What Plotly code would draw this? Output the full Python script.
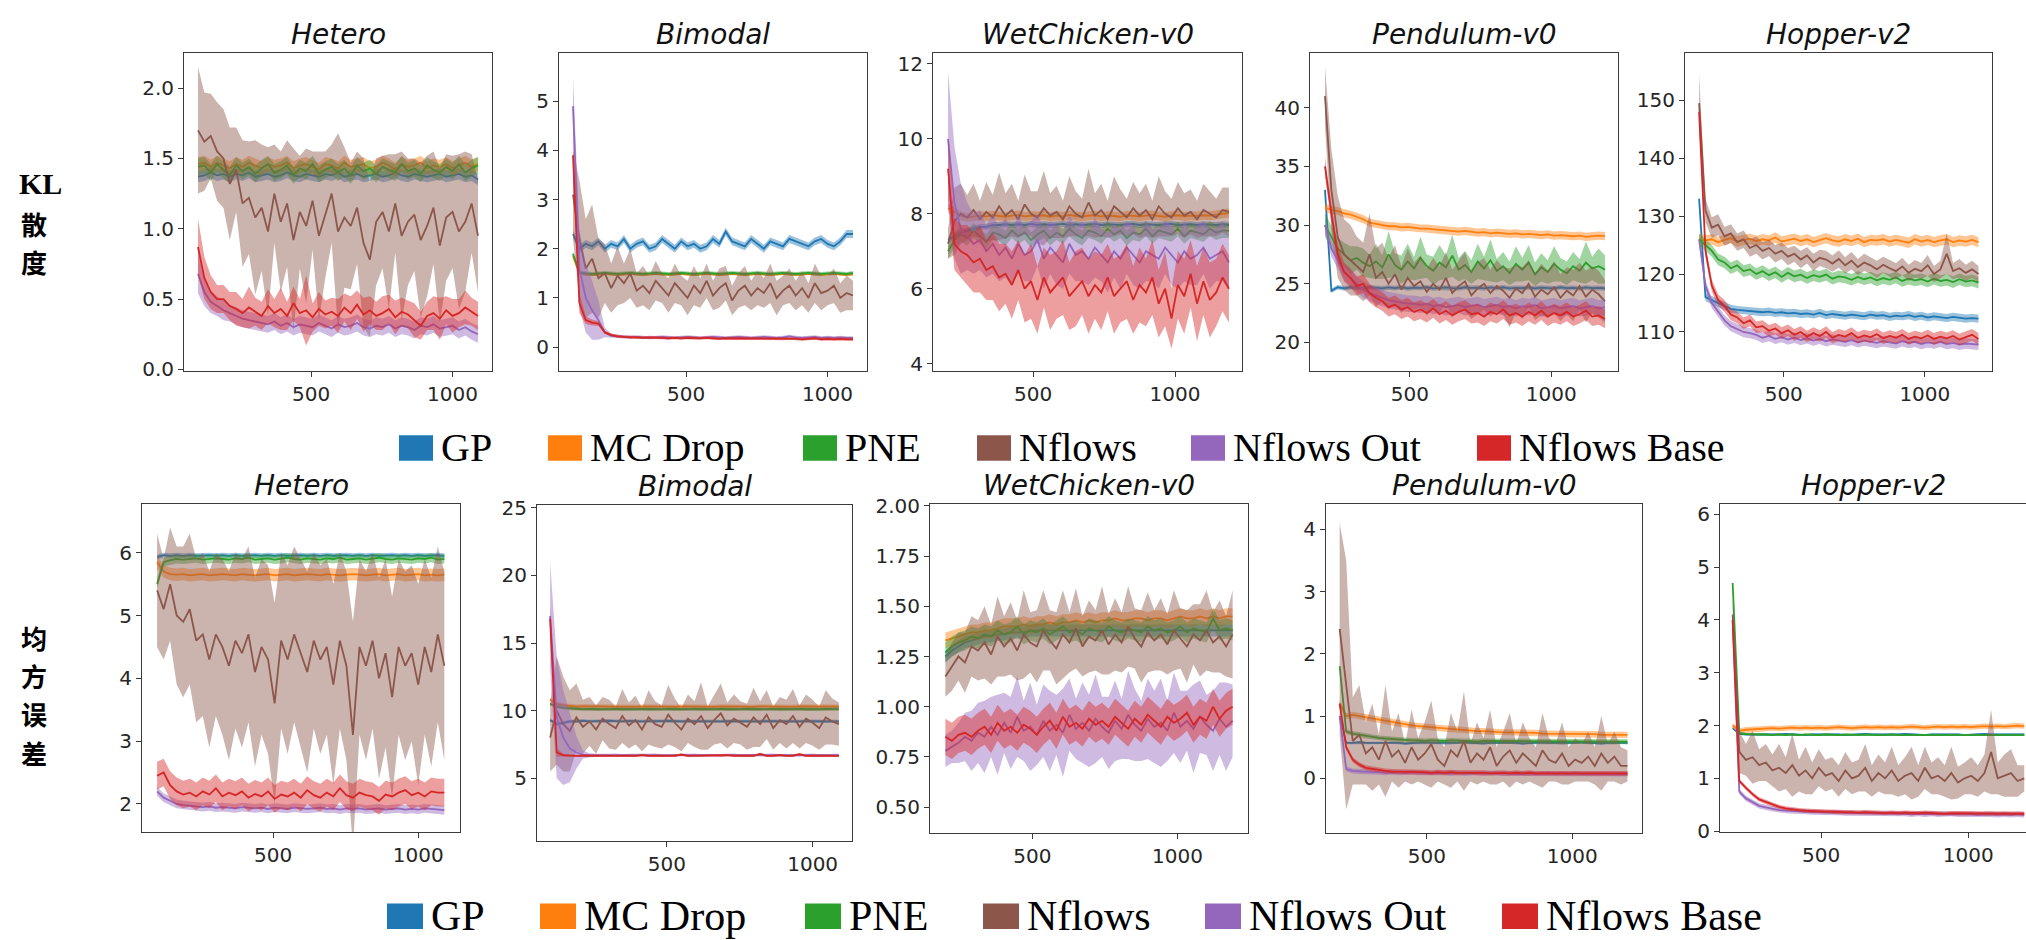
import numpy as np
import plotly.graph_objects as go

W, H = 2026, 940
SERIES = ["GP", "MC Drop", "PNE", "Nflows", "Nflows Out", "Nflows Base"]
COLORS = ["#1f77b4", "#ff7f0e", "#2ca02c", "#8c564b", "#9467bd", "#d62728"]
TITLES = ["Hetero", "Bimodal", "WetChicken-v0", "Pendulum-v0", "Hopper-v2"]
X_START = [100, 100, 200, 200, 200]
X_END = [1090, 1090, 1190, 1190, 1190]

# ---------------- KL divergence (top row) ----------------
T1_GP_M = [1.37,1.38,1.40,1.38,1.39, 1.37,1.39,1.38,1.40,1.37, 1.38,1.39,1.37,1.38,1.40, 1.38,1.37,1.39,1.38,1.37,
           1.39,1.38,1.40,1.37,1.38, 1.39,1.37,1.38,1.39,1.37, 1.38,1.40,1.38,1.37,1.39, 1.38,1.37,1.38,1.39,1.37,
           1.38,1.39,1.37,1.38,1.35]
T1_GP_S = 0.04
T1_MC_M = [1.46,1.47,1.44,1.47,1.45, 1.43,1.46,1.44,1.47,1.45, 1.43,1.46,1.44,1.45,1.47, 1.43,1.45,1.46,1.44,1.42,
           1.46,1.45,1.43,1.47,1.44, 1.45,1.46,1.43,1.44,1.47, 1.45,1.42,1.46,1.44,1.45, 1.47,1.43,1.45,1.44,1.46,
           1.43,1.45,1.47,1.44,1.46]
T1_MC_S = 0.05
T1_PNE_M = [1.44,1.45,1.40,1.46,1.42, 1.38,1.45,1.41,1.44,1.39, 1.43,1.46,1.40,1.42,1.45, 1.38,1.43,1.41,1.46,1.39,
            1.42,1.44,1.40,1.43,1.38, 1.45,1.41,1.43,1.39,1.44, 1.42,1.40,1.46,1.41,1.43, 1.39,1.45,1.42,1.40,1.44,
            1.41,1.46,1.40,1.43,1.45]
T1_PNE_S = 0.06
T1_NF_M = [1.70,1.62,1.66,1.55,1.50, 1.32,1.42,1.18,1.22,1.08, 1.15,0.98,1.25,1.05,1.18, 0.92,1.12,1.02,1.20,0.95,
           1.10,1.25,0.98,1.08,1.02, 1.15,0.90,0.78,1.05,1.12, 0.98,1.18,0.95,1.05,1.10, 0.92,1.02,1.15,0.88,1.08,
           1.12,0.98,1.05,1.18,0.95]
T1_NF_S = [0.45,0.35,0.30,0.35,0.35, 0.40,0.30,0.45,0.40,0.55, 0.45,0.60,0.35,0.50,0.45, 0.65,0.40,0.55,0.35,0.60,
           0.45,0.35,0.70,0.50,0.45, 0.40,0.60,0.55,0.45,0.40, 0.55,0.35,0.60,0.45,0.40, 0.55,0.50,0.40,0.55,0.45,
           0.40,0.55,0.50,0.35,0.40]
T1_OUT_M = [0.68,0.55,0.48,0.45,0.42, 0.40,0.38,0.36,0.35,0.34, 0.33,0.32,0.34,0.31,0.33, 0.30,0.32,0.31,0.30,0.33,
            0.31,0.29,0.32,0.30,0.31, 0.33,0.30,0.29,0.31,0.30, 0.32,0.29,0.31,0.30,0.28, 0.31,0.30,0.32,0.29,0.30,
            0.31,0.28,0.30,0.27,0.25]
T1_OUT_S = [0.14,0.10,0.08,0.07,0.07, 0.06,0.06,0.06,0.06,0.06, 0.06,0.06,0.06,0.06,0.06, 0.06,0.06,0.06,0.06,0.06,
            0.06,0.06,0.06,0.06,0.06, 0.06,0.06,0.06,0.06,0.06, 0.06,0.06,0.06,0.06,0.06, 0.06,0.06,0.06,0.06,0.06,
            0.06,0.06,0.06,0.06,0.06]
T1_BASE_M = [0.87,0.65,0.55,0.50,0.50, 0.45,0.43,0.40,0.44,0.41, 0.38,0.45,0.40,0.43,0.38, 0.47,0.40,0.42,0.37,0.43,
             0.39,0.41,0.38,0.44,0.40, 0.46,0.39,0.42,0.38,0.40, 0.43,0.37,0.41,0.39,0.35, 0.31,0.38,0.40,0.36,0.42,
             0.38,0.40,0.44,0.41,0.38]
T1_BASE_S = [0.20,0.15,0.12,0.10,0.10, 0.10,0.12,0.10,0.15,0.10, 0.10,0.12,0.10,0.15,0.10, 0.12,0.10,0.25,0.10,0.12,
             0.10,0.10,0.12,0.10,0.12, 0.10,0.12,0.10,0.10,0.12, 0.10,0.12,0.10,0.10,0.12, 0.10,0.10,0.12,0.15,0.10,
             0.12,0.10,0.12,0.10,0.10]

T2_GP_M = [2.30,2.00,2.10,2.05,2.15, 2.00,2.10,2.05,2.20,2.00, 2.10,2.15,2.00,2.05,2.20, 2.10,2.00,2.15,2.05,2.10,
           2.00,2.05,2.20,2.10,2.35, 2.15,2.10,2.05,2.20,2.10, 2.00,2.15,2.10,2.05,2.20, 2.15,2.10,2.05,2.15,2.20,
           2.10,2.05,2.15,2.30,2.30]
T2_GP_S = 0.08
T2_MC_M = [1.85,1.50,1.48,1.47,1.48, 1.49,1.48,1.47,1.48,1.49, 1.48,1.47,1.48,1.49,1.48, 1.47,1.48,1.49,1.48,1.47,
           1.48,1.49,1.48,1.47,1.48, 1.49,1.48,1.47,1.48,1.49, 1.48,1.47,1.48,1.49,1.48, 1.47,1.48,1.49,1.48,1.47,
           1.48,1.49,1.48,1.47,1.48]
T2_MC_S = 0.03
T2_PNE_M = [1.90,1.52,1.50,1.49,1.50, 1.51,1.50,1.49,1.50,1.51, 1.50,1.49,1.50,1.51,1.50, 1.49,1.50,1.51,1.50,1.49,
            1.50,1.51,1.50,1.49,1.50, 1.51,1.50,1.49,1.50,1.51, 1.50,1.49,1.50,1.51,1.50, 1.49,1.50,1.51,1.50,1.49,
            1.50,1.51,1.50,1.49,1.51]
T2_PNE_S = 0.04
T2_NF_M = [3.10,2.20,1.60,1.80,1.40, 1.50,1.20,1.45,1.30,1.50, 1.15,1.25,1.10,1.35,1.20, 1.05,1.30,1.15,1.00,1.25,
           1.10,1.35,1.05,1.20,1.30, 0.95,1.15,1.25,1.05,1.20, 1.10,1.30,1.00,1.15,1.25, 1.05,1.20,1.00,1.30,1.10,
           1.15,1.25,1.00,1.10,1.05]
T2_NF_S = [0.90,1.20,1.00,1.10,0.80, 0.60,0.50,0.60,0.40,0.50, 0.35,0.40,0.35,0.40,0.30, 0.35,0.40,0.30,0.35,0.40,
           0.30,0.35,0.30,0.40,0.35, 0.30,0.35,0.40,0.30,0.35, 0.30,0.40,0.35,0.30,0.35, 0.30,0.35,0.30,0.40,0.35,
           0.30,0.35,0.30,0.35,0.30]
T2_OUT_M = [4.90,1.60,1.00,0.75,0.55, 0.30,0.23,0.22,0.21,0.20, 0.21,0.20,0.19,0.20,0.21, 0.20,0.19,0.20,0.21,0.20,
            0.19,0.20,0.21,0.20,0.19, 0.20,0.21,0.20,0.19,0.20, 0.21,0.20,0.19,0.20,0.22, 0.20,0.19,0.20,0.21,0.19,
            0.20,0.19,0.20,0.19,0.19]
T2_OUT_S = [0.60,0.80,0.70,0.60,0.40, 0.10,0.04,0.03,0.03,0.03, 0.03,0.03,0.03,0.03,0.03, 0.03,0.03,0.03,0.03,0.03,
            0.03,0.03,0.03,0.03,0.03, 0.03,0.03,0.03,0.03,0.03, 0.03,0.03,0.03,0.03,0.03, 0.03,0.03,0.03,0.03,0.03,
            0.03,0.03,0.03,0.03,0.03]
T2_BASE_M = [3.90,0.90,0.55,0.50,0.48, 0.30,0.25,0.22,0.21,0.20, 0.20,0.19,0.20,0.19,0.19, 0.18,0.19,0.18,0.19,0.18,
             0.18,0.19,0.18,0.17,0.18, 0.18,0.17,0.18,0.17,0.18, 0.17,0.18,0.17,0.17,0.18, 0.17,0.16,0.17,0.18,0.16,
             0.17,0.16,0.17,0.16,0.16]
T2_BASE_S = [0.30,0.20,0.08,0.06,0.05, 0.03,0.03,0.03,0.03,0.03, 0.03,0.03,0.03,0.03,0.03, 0.03,0.03,0.03,0.03,0.03,
             0.03,0.03,0.03,0.03,0.03, 0.03,0.03,0.03,0.03,0.03, 0.03,0.03,0.03,0.03,0.03, 0.03,0.03,0.03,0.03,0.03,
             0.03,0.03,0.03,0.03,0.03]

T3_GP_M = [7.30,7.40,7.50,7.55,7.60, 7.65,7.65,7.70,7.70,7.72, 7.70,7.72,7.70,7.73,7.70, 7.72,7.70,7.71,7.73,7.70,
           7.72,7.70,7.71,7.73,7.70, 7.72,7.71,7.70,7.72,7.73, 7.70,7.72,7.71,7.70,7.72, 7.73,7.70,7.71,7.72,7.70,
           7.72,7.71,7.70,7.72,7.70]
T3_GP_S = 0.08
T3_MC_M = [8.15,8.05,7.95,7.90,7.92, 7.95,7.93,7.96,7.94,7.92, 7.95,7.97,7.93,7.95,7.94, 7.96,7.92,7.95,7.93,7.97,
           7.94,7.92,7.95,7.96,7.93, 7.95,7.94,7.92,7.96,7.95, 7.93,7.95,7.97,7.94,7.92, 7.95,7.96,7.93,7.95,7.94,
           7.96,7.95,7.97,8.00,8.02]
T3_MC_S = 0.12
T3_PNE_M = [7.00,7.30,7.45,7.35,7.55, 7.40,7.25,7.50,7.45,7.35, 7.55,7.40,7.50,7.30,7.45, 7.55,7.35,7.50,7.40,7.60,
            7.45,7.35,7.55,7.50,7.40, 7.60,7.45,7.55,7.35,7.50, 7.45,7.60,7.40,7.55,7.50, 7.45,7.60,7.40,7.55,7.50,
            7.45,7.60,7.50,7.55,7.55]
T3_PNE_S = 0.20
T3_NF_M = [7.20,7.80,8.00,7.90,8.10, 7.85,8.05,7.90,8.20,7.95, 8.10,7.85,8.25,8.00,7.90, 8.15,7.95,8.05,7.85,8.20,
           8.00,7.90,8.30,7.95,8.10, 7.85,8.20,8.05,7.90,8.15, 7.95,8.10,7.85,8.20,8.00, 7.90,8.15,7.95,8.05,7.85,
           8.10,8.00,7.90,8.10,8.05]
T3_NF_S = [0.40,0.90,0.80,0.60,0.70, 0.50,0.80,0.60,0.90,0.60, 0.70,0.50,0.80,0.60,0.70, 1.00,0.60,0.70,0.50,0.80,
           0.60,0.50,0.90,0.60,0.70, 0.50,0.80,0.60,0.50,0.70, 0.60,0.70,0.50,0.80,0.60, 0.50,0.70,0.60,0.60,0.50,
           0.70,0.60,0.50,0.60,0.65]
T3_OUT_M = [10.00,8.30,7.60,7.40,7.20, 7.30,7.00,7.20,6.90,7.10, 6.80,7.20,6.90,7.00,7.30, 6.80,7.10,6.90,6.70,7.20,
            6.90,7.00,6.80,7.10,6.90, 6.70,7.00,6.80,7.10,6.90, 6.70,7.00,6.90,6.80,7.10, 6.90,6.70,7.00,6.80,6.90,
            7.10,6.80,6.90,7.00,6.70]
T3_OUT_S = [1.80,1.50,1.20,0.90,0.80, 0.80,0.70,0.80,0.70,0.80, 0.70,0.80,0.70,0.80,0.70, 0.80,0.70,0.80,0.70,0.80,
            0.70,0.80,0.70,0.80,0.70, 0.80,0.70,0.80,0.70,0.80, 0.70,0.80,0.70,0.80,0.70, 0.80,0.70,0.80,0.70,0.80,
            0.70,0.80,0.70,0.80,0.70]
T3_BASE_M = [9.20,7.20,7.00,6.90,6.70, 6.80,6.50,6.60,6.30,6.40, 6.10,6.50,6.00,6.20,5.70, 6.30,5.90,6.10,6.30,5.80,
             6.00,6.20,5.80,6.10,5.90, 6.30,5.80,6.00,6.20,5.70, 6.10,5.90,6.30,5.60,6.00, 5.20,6.10,5.80,6.40,5.60,
             6.20,5.70,5.90,6.30,6.00]
T3_BASE_S = [0.80,0.70,0.70,0.80,0.80, 0.90,0.80,0.90,0.90,0.80, 0.90,0.80,0.90,1.00,0.90, 0.80,1.00,0.90,1.00,0.90,
             1.00,0.90,1.00,0.90,1.00, 0.90,1.00,0.90,1.00,0.90, 1.00,0.90,1.00,0.90,1.00, 0.80,0.90,1.00,0.90,1.00,
             0.90,1.00,0.90,0.90,0.90]

T4_GP_M = [33.00,24.40,24.70,24.60,24.70, 24.65,24.60,24.70,24.65,24.60, 24.68,24.62,24.70,24.60,24.66,
           24.64,24.70,24.60,24.65,24.68, 24.62,24.60,24.70,24.64,24.66, 24.60,24.68,24.62,24.70,24.60,
           24.65,24.62,24.68,24.60,24.66, 24.64,24.60,24.70,24.62,24.65, 24.60,24.68,24.62,24.64,24.60]
T4_GP_S = 0.2
T4_MC_M = [31.50,31.30,31.20,31.00,30.90, 30.70,30.50,30.20,30.10,30.00, 29.90,29.90,29.80,29.85,29.75,
           29.70,29.70,29.65,29.60,29.55, 29.50,29.45,29.50,29.40,29.35, 29.40,29.30,29.35,29.30,29.25,
           29.30,29.20,29.25,29.20,29.15, 29.20,29.10,29.15,29.10,29.05, 29.10,29.00,29.05,29.10,29.05]
T4_MC_S = 0.35
T4_PNE_M = [30.00,29.00,28.00,27.50,27.00, 27.20,26.80,26.50,26.90,26.40, 27.50,26.60,26.20,26.90,26.30,
            27.20,26.50,26.10,26.80,26.40, 27.40,26.20,26.60,26.00,26.90, 26.30,27.00,26.10,26.50,25.90,
            26.70,26.20,26.80,25.80,26.40, 26.00,26.70,26.20,25.90,26.50, 26.10,26.80,26.30,26.50,26.20]
T4_PNE_S = [1.00,0.90,0.90,1.00,1.20, 1.00,1.20,1.00,1.50,1.00, 2.00,1.00,1.20,1.50,1.00, 1.80,1.00,1.20,1.50,1.00,
            1.80,1.00,1.20,1.00,1.50, 1.00,1.80,1.00,1.20,1.00, 1.50,1.00,1.50,1.00,1.20, 1.00,1.50,1.00,1.00,1.20,
            1.00,1.80,1.00,1.50,1.20]
T4_NF_M = [41.00,33.00,29.00,27.50,27.00, 26.50,26.00,27.50,25.50,26.00, 25.00,25.80,24.50,25.50,24.80,
           25.20,24.30,25.00,24.50,25.50, 24.20,24.80,25.20,24.00,24.60, 25.00,24.20,24.80,24.40,23.80,
           24.60,24.20,25.00,23.90,24.50, 24.10,24.70,23.80,24.40,24.00, 24.80,23.90,24.50,24.10,23.50]
T4_NF_S = [2.50,3.50,3.50,3.00,3.00, 2.50,2.50,3.50,2.50,2.50, 2.20,2.50,2.00,2.50,2.00, 2.20,2.00,2.20,2.00,2.20,
           2.00,2.20,2.50,2.00,2.20, 2.20,2.00,2.20,2.00,2.50, 2.00,2.20,2.00,2.00,2.20, 2.00,2.20,2.00,2.00,2.20,
           2.00,2.20,2.00,2.00,1.80]
T4_OUT_M = [30.00,28.00,27.00,26.00,25.50, 25.00,24.50,24.20,24.00,23.80, 23.60,23.50,23.40,23.30,23.30,
            23.20,23.30,23.10,23.20,23.00, 23.10,23.20,23.00,23.10,23.20, 23.00,23.10,23.20,23.00,23.10,
            22.90,23.10,23.00,23.20,22.90, 23.00,23.10,22.90,23.00,23.10, 22.90,23.00,23.10,22.90,23.00]
T4_OUT_S = 0.7
T4_BASE_M = [35.00,31.00,27.50,26.00,25.50, 24.80,25.00,24.20,23.80,23.50, 23.00,23.20,22.80,23.00,22.60,
             22.80,22.50,22.90,22.40,22.70, 22.30,22.60,22.80,22.40,22.50, 22.20,22.60,22.40,22.80,22.30,
             22.50,22.20,22.60,22.30,22.70, 22.20,22.50,22.30,22.60,22.20, 22.40,22.70,22.20,22.30,22.00]
T4_BASE_S = 0.8

T5_GP_M = [133.0,116.0,115.5,115.0,114.5, 114.0,113.8,113.7,113.6,113.5, 113.4,113.5,113.3,113.4,113.2,
           113.3,113.1,113.2,113.0,113.3, 112.9,113.1,113.0,112.8,113.0, 112.9,112.7,113.0,112.8,112.9,
           112.6,112.8,112.7,112.9,112.6, 112.8,112.5,112.7,112.6,112.4, 112.6,112.5,112.3,112.4,112.3]
T5_GP_S = 0.7
T5_MC_M = [126.0,125.8,126.0,125.5,125.9, 126.2,125.6,125.9,126.1,125.7, 126.0,125.8,126.3,125.6,125.9,
           126.1,125.7,126.0,125.5,125.9, 126.2,125.8,125.6,126.0,125.7, 126.1,125.5,125.9,125.8,126.0,
           125.6,125.9,125.7,125.4,126.0, 125.6,125.9,125.5,125.8,126.0, 125.5,125.8,125.6,125.9,125.5]
T5_MC_S = 0.9
T5_PNE_M = [126.0,125.0,124.0,122.5,122.0, 121.0,121.5,120.5,120.8,120.0, 120.5,119.8,120.3,119.5,120.2,
            119.6,119.9,119.3,119.8,119.5, 119.9,119.2,119.6,119.4,119.0, 119.5,119.1,119.4,118.9,119.3,
            119.0,119.4,118.8,119.2,118.9, 119.1,118.7,119.2,118.8,119.0, 118.6,119.1,118.7,118.9,118.5]
T5_PNE_S = 1.0
T5_NF_M = [149.5,131.0,128.0,128.5,126.5, 127.0,125.5,126.0,124.5,125.0, 124.0,124.5,123.5,124.0,123.0,
           123.5,122.5,123.2,122.0,122.8, 122.5,121.8,122.6,121.5,122.3, 121.2,122.0,121.5,120.8,121.6,
           121.0,120.5,121.3,120.2,120.9, 120.5,121.5,120.0,120.8,123.5, 120.5,121.0,120.2,120.8,120.0]
T5_NF_S = [5.0,2.0,1.8,1.8,1.6, 1.6,1.5,1.5,1.5,1.5, 1.5,1.4,1.5,1.4,1.5, 1.4,1.5,1.4,1.5,1.4,
           1.5,1.4,1.5,1.4,1.5, 1.4,1.5,1.4,1.5,1.4, 1.5,1.4,1.5,1.4,1.5, 1.4,1.8,1.4,1.5,3.5,
           1.4,1.6,1.4,1.5,1.4]
T5_OUT_M = [126.0,118.0,115.0,113.5,112.0, 111.0,110.5,110.0,109.8,109.5, 109.0,109.3,108.8,109.1,108.7,
            109.0,108.6,108.9,108.5,108.8, 108.4,108.7,108.5,108.3,108.6, 108.2,108.5,108.3,108.1,108.4,
            108.2,108.0,108.4,108.1,108.3, 107.9,108.2,108.0,108.3,107.9, 108.1,107.8,108.0,107.9,107.8]
T5_OUT_S = 0.9
T5_BASE_M = [148.0,124.0,118.0,115.5,114.5, 113.0,112.5,111.5,112.0,110.8, 111.0,110.2,110.6,109.8,110.3,
             109.5,110.0,109.2,109.8,109.3, 110.0,109.0,109.5,109.2,109.8, 109.0,109.4,109.1,109.6,108.9,
             109.3,109.0,109.5,108.8,109.2, 108.9,109.4,108.8,109.2,108.9, 109.3,108.7,109.1,109.5,108.8]
T5_BASE_S = 1.0

# ---------------- MSE (bottom row) ----------------
B1_GP_M = [5.93,5.96,5.95,5.96,5.95, 5.96,5.95,5.96,5.96,5.95, 5.96,5.95,5.96,5.95,5.96, 5.96,5.95,5.96,5.95,5.96,
           5.95,5.96,5.96,5.95,5.96, 5.95,5.96,5.95,5.96,5.96, 5.95,5.96,5.95,5.96,5.95, 5.96,5.96,5.95,5.96,5.95,
           5.96,5.95,5.96,5.96,5.95]
B1_GP_S = 0.04
B1_MC_M = [5.85,5.70,5.66,5.65,5.66, 5.64,5.65,5.66,5.64,5.65, 5.66,5.65,5.64,5.66,5.65, 5.64,5.65,5.66,5.64,5.65,
           5.66,5.64,5.65,5.66,5.65, 5.64,5.66,5.65,5.64,5.65, 5.66,5.65,5.64,5.65,5.66, 5.64,5.65,5.66,5.64,5.65,
           5.66,5.64,5.65,5.64,5.65]
B1_MC_S = 0.10
B1_PNE_M = [5.50,5.85,5.88,5.90,5.89, 5.90,5.91,5.89,5.90,5.91, 5.90,5.89,5.91,5.90,5.92, 5.89,5.90,5.91,5.89,5.90,
            5.92,5.90,5.89,5.91,5.90, 5.89,5.91,5.90,5.92,5.89, 5.90,5.91,5.89,5.90,5.92, 5.90,5.89,5.91,5.90,5.89,
            5.91,5.90,5.92,5.89,5.90]
B1_PNE_S = 0.07
B1_NF_M = [5.40,5.10,5.50,5.00,4.90, 5.10,4.60,4.70,4.30,4.70, 4.50,4.20,4.60,4.40,4.70, 4.10,4.50,4.30,3.60,4.60,
           4.30,4.70,4.40,4.10,4.60, 4.30,4.50,3.90,4.60,4.20, 3.10,4.50,4.20,4.60,4.00, 4.40,3.70,4.50,4.20,4.40,
           3.90,4.50,4.10,4.70,4.20]
B1_NF_S = [0.90,0.80,0.90,1.10,1.20, 1.20,1.30,1.30,1.40,1.30, 1.40,1.50,1.40,1.50,1.40, 1.50,1.40,1.50,1.60,1.40,
           1.50,1.40,1.50,1.60,1.40, 1.50,1.40,1.60,1.40,1.50, 1.80,1.40,1.50,1.40,1.60, 1.50,1.60,1.40,1.50,1.40,
           1.60,1.40,1.50,1.40,1.50]
B1_OUT_M = [2.20,2.10,2.05,2.00,1.98, 1.97,1.96,1.95,1.96,1.94, 1.95,1.94,1.93,1.95,1.94, 1.93,1.94,1.92,1.94,1.93,
            1.92,1.94,1.93,1.92,1.93, 1.94,1.92,1.93,1.91,1.93, 1.92,1.93,1.91,1.92,1.93, 1.91,1.92,1.93,1.91,1.92,
            1.91,1.93,1.92,1.91,1.90]
B1_OUT_S = 0.07
B1_BASE_M = [2.45,2.50,2.30,2.20,2.15, 2.18,2.12,2.20,2.15,2.25, 2.12,2.18,2.14,2.20,2.10, 2.16,2.12,2.20,2.08,2.15,
             2.12,2.18,2.10,2.22,2.14, 2.10,2.18,2.12,2.25,2.14, 2.10,2.18,2.14,2.12,2.05, 2.15,2.12,2.18,2.22,2.14,
             2.18,2.12,2.20,2.18,2.18]
B1_BASE_S = 0.22

B2_GP_M = [9.30,9.00,9.10,9.20,9.20, 9.25,9.20,9.22,9.20,9.25, 9.22,9.20,9.24,9.21,9.20, 9.23,9.20,9.22,9.25,9.21,
           9.20,9.23,9.22,9.20,9.24, 9.21,9.20,9.23,9.22,9.20, 9.24,9.21,9.20,9.23,9.22, 9.20,9.24,9.21,9.20,9.23,
           9.22,9.20,9.21,9.23,9.20]
B2_GP_S = 0.12
B2_MC_M = [10.80,10.50,10.40,10.35,10.30, 10.32,10.30,10.28,10.31,10.30, 10.29,10.32,10.30,10.28,10.31,
           10.30,10.29,10.32,10.30,10.28, 10.31,10.30,10.29,10.32,10.30, 10.28,10.31,10.30,10.29,10.32,
           10.30,10.28,10.31,10.30,10.29, 10.32,10.30,10.28,10.31,10.30, 10.29,10.32,10.30,10.28,10.30]
B2_MC_S = 0.15
B2_PNE_M = [10.50,10.30,10.20,10.15,10.12, 10.10,10.12,10.10,10.11,10.10, 10.12,10.10,10.11,10.10,10.12,
            10.10,10.11,10.10,10.12,10.10, 10.11,10.10,10.12,10.10,10.11, 10.10,10.12,10.10,10.11,10.10,
            10.12,10.10,10.11,10.10,10.12, 10.10,10.11,10.10,10.12,10.10, 10.11,10.10,10.12,10.10,10.11]
B2_PNE_S = 0.12
B2_NF_M = [8.00,10.00,9.00,8.50,9.50, 8.80,9.20,8.60,9.40,9.00, 8.70,9.60,8.90,9.30,8.60, 9.50,9.00,8.80,9.70,9.10,
           8.60,9.40,9.00,9.60,8.70, 9.30,9.80,8.90,9.40,9.10, 8.80,9.50,9.00,9.70,8.70, 9.30,9.00,9.60,8.80,9.40,
           9.10,8.70,9.50,9.20,9.00]
B2_NF_S = [2.50,4.00,3.50,3.00,2.50, 2.00,1.80,1.80,1.60,1.80, 1.60,2.00,1.70,1.80,1.60, 2.00,1.70,1.60,2.20,1.80,
           1.60,1.80,1.70,2.50,1.60, 1.80,2.20,1.70,1.80,1.60, 1.70,2.20,1.70,1.80,1.60, 1.70,1.80,2.00,1.60,1.80,
           1.70,1.60,2.00,1.70,1.60]
B2_OUT_M = [17.00,9.50,8.00,7.20,6.90, 6.75,6.70,6.70,6.68,6.70, 6.72,6.68,6.70,6.71,6.69, 6.70,6.72,6.68,6.70,6.71,
            6.69,6.70,6.72,6.68,6.70, 6.71,6.69,6.70,6.72,6.68, 6.70,6.71,6.69,6.70,6.72, 6.68,6.70,6.71,6.69,6.70,
            6.72,6.68,6.70,6.71,6.70]
B2_OUT_S = [4.00,4.50,3.50,2.50,1.20, 0.30,0.15,0.10,0.10,0.10, 0.10,0.10,0.10,0.10,0.10, 0.10,0.10,0.10,0.10,0.10,
            0.10,0.10,0.10,0.10,0.10, 0.10,0.10,0.10,0.10,0.10, 0.10,0.10,0.10,0.10,0.10, 0.10,0.10,0.10,0.10,0.10,
            0.10,0.10,0.10,0.10,0.10]
B2_BASE_M = [16.80,6.90,6.70,6.65,6.65, 6.66,6.65,6.67,6.65,6.66, 6.65,6.67,6.66,6.65,6.70, 6.65,6.66,6.68,6.65,6.66,
             6.75,6.65,6.66,6.67,6.65, 6.66,6.65,6.70,6.66,6.65, 6.67,6.66,6.80,6.65,6.66, 6.70,6.65,6.66,6.78,6.65,
             6.66,6.67,6.65,6.66,6.65]
B2_BASE_S = [1.00,0.30,0.10,0.08,0.08, 0.08,0.08,0.08,0.08,0.08, 0.08,0.08,0.08,0.08,0.08, 0.08,0.08,0.08,0.08,0.08,
             0.08,0.08,0.08,0.08,0.08, 0.08,0.08,0.08,0.08,0.08, 0.08,0.08,0.08,0.08,0.08, 0.08,0.08,0.08,0.08,0.08,
             0.08,0.08,0.08,0.08,0.08]

B3_GP_M = [1.25,1.28,1.30,1.32,1.33, 1.34,1.35,1.35,1.36,1.36, 1.37,1.37,1.37,1.38,1.38, 1.38,1.38,1.38,1.38,1.38,
           1.38,1.38,1.38,1.38,1.38, 1.38,1.38,1.38,1.38,1.38, 1.38,1.38,1.38,1.38,1.38, 1.38,1.38,1.38,1.38,1.38,
           1.38,1.38,1.38,1.38,1.38]
B3_GP_S = 0.03
B3_MC_M = [1.33,1.34,1.35,1.36,1.37, 1.37,1.38,1.38,1.39,1.40, 1.40,1.40,1.41,1.40,1.41, 1.41,1.42,1.41,1.42,1.42,
           1.43,1.42,1.43,1.42,1.43, 1.43,1.44,1.43,1.43,1.44, 1.44,1.43,1.44,1.44,1.43, 1.44,1.45,1.44,1.44,1.45,
           1.44,1.45,1.44,1.45,1.45]
B3_MC_S = 0.04
B3_PNE_M = [1.27,1.30,1.32,1.33,1.35, 1.34,1.36,1.35,1.38,1.36, 1.37,1.40,1.36,1.38,1.37, 1.39,1.36,1.38,1.40,1.37,
            1.38,1.36,1.39,1.38,1.37, 1.40,1.38,1.37,1.39,1.38, 1.37,1.40,1.38,1.39,1.37, 1.38,1.40,1.37,1.39,1.38,
            1.37,1.44,1.38,1.39,1.38]
B3_PNE_S = 0.05
B3_NF_M = [1.15,1.20,1.25,1.22,1.30, 1.28,1.32,1.26,1.35,1.30, 1.34,1.28,1.36,1.32,1.30, 1.38,1.33,1.29,1.36,1.32,
           1.39,1.30,1.35,1.33,1.38, 1.31,1.36,1.32,1.40,1.34, 1.30,1.37,1.33,1.36,1.31, 1.38,1.34,1.30,1.36,1.33,
           1.38,1.32,1.35,1.30,1.36]
B3_NF_S = [0.10,0.12,0.12,0.15,0.15, 0.15,0.18,0.15,0.20,0.15, 0.18,0.15,0.22,0.15,0.18, 0.20,0.15,0.18,0.22,0.15,
           0.20,0.15,0.18,0.15,0.22, 0.15,0.18,0.15,0.20,0.15, 0.18,0.20,0.15,0.18,0.15, 0.20,0.15,0.18,0.15,0.18,
           0.20,0.15,0.18,0.15,0.22]
B3_OUT_M = [0.78,0.80,0.82,0.85,0.83, 0.87,0.85,0.90,0.86,0.92, 0.87,0.95,0.88,0.90,0.86, 0.93,0.88,0.91,0.87,0.96,
            0.89,0.92,0.88,0.94,0.90, 0.87,0.93,0.89,0.96,0.91, 0.88,0.94,0.90,0.92,0.88, 0.97,0.90,0.93,0.89,0.95,
            0.91,0.88,0.94,0.90,0.93]
B3_OUT_S = [0.08,0.08,0.10,0.12,0.15, 0.15,0.18,0.15,0.20,0.15, 0.18,0.20,0.15,0.22,0.15, 0.18,0.20,0.15,0.22,0.18,
            0.15,0.20,0.18,0.22,0.15, 0.18,0.20,0.15,0.22,0.18, 0.15,0.20,0.18,0.22,0.15, 0.20,0.18,0.15,0.22,0.18,
            0.15,0.20,0.18,0.22,0.18]
B3_BASE_M = [0.85,0.83,0.86,0.87,0.85, 0.88,0.90,0.86,0.92,0.88, 0.90,0.87,0.91,0.89,0.86, 0.90,0.93,0.88,0.95,0.90,
             0.92,0.89,0.94,0.91,0.93, 0.90,0.95,0.92,0.89,0.94, 0.91,0.96,0.93,0.90,0.95, 0.92,0.94,0.97,0.91,0.95,
             0.93,1.00,0.94,0.98,1.00]
B3_BASE_S = 0.09

B4_GP_M = [1.00,0.57,0.57,0.58,0.57, 0.57,0.57,0.58,0.57,0.57, 0.56,0.57,0.57,0.58,0.57, 0.57,0.56,0.57,0.57,0.58,
           0.57,0.57,0.56,0.57,0.57, 0.58,0.57,0.57,0.56,0.57, 0.57,0.58,0.57,0.57,0.56, 0.57,0.57,0.58,0.57,0.57,
           0.56,0.57,0.57,0.58,0.57]
B4_GP_S = 0.02
B4_MC_M = [1.20,1.00,1.02,1.00,0.98, 0.96,0.94,0.92,0.90,0.88, 0.86,0.85,0.84,0.83,0.82, 0.81,0.80,0.79,0.78,0.78,
           0.77,0.76,0.76,0.75,0.75, 0.74,0.74,0.74,0.73,0.73, 0.73,0.72,0.72,0.72,0.72, 0.71,0.71,0.71,0.71,0.71,
           0.70,0.70,0.70,0.70,0.70]
B4_MC_S = 0.05
B4_PNE_M = [1.80,0.75,0.72,0.70,0.68, 0.67,0.65,0.64,0.63,0.62, 0.62,0.61,0.61,0.60,0.61, 0.60,0.60,0.61,0.60,0.60,
            0.60,0.59,0.60,0.60,0.59, 0.60,0.60,0.59,0.60,0.59, 0.60,0.59,0.60,0.59,0.59, 0.60,0.59,0.59,0.60,0.59,
            0.59,0.60,0.59,0.59,0.59]
B4_PNE_S = 0.04
B4_NF_M = [2.40,1.50,0.60,0.70,0.40, 0.50,0.30,0.60,0.35,0.45, 0.25,0.50,0.30,0.40,0.55, 0.30,0.20,0.45,0.35,0.60,
           0.25,0.40,0.30,0.50,0.20, 0.35,0.45,0.25,0.40,0.30, 0.20,0.45,0.30,0.25,0.40, 0.20,0.30,0.25,0.35,0.20,
           0.40,0.25,0.35,0.20,0.20]
B4_NF_S = [1.70,2.00,0.70,0.80,0.50, 0.70,0.40,0.90,0.40,0.60, 0.30,0.60,0.35,0.50,0.70, 0.35,0.30,0.60,0.40,0.80,
           0.30,0.50,0.35,0.60,0.30, 0.40,0.60,0.30,0.50,0.35, 0.30,0.60,0.35,0.30,0.50, 0.30,0.35,0.30,0.40,0.30,
           0.60,0.30,0.40,0.30,0.25]
B4_OUT_M = [1.00,0.15,0.12,0.11,0.10, 0.10,0.10,0.09,0.10,0.09, 0.09,0.10,0.09,0.09,0.08, 0.09,0.09,0.08,0.09,0.08,
            0.08,0.09,0.08,0.08,0.09, 0.08,0.08,0.07,0.08,0.08, 0.07,0.08,0.08,0.07,0.08, 0.07,0.08,0.07,0.07,0.08,
            0.07,0.07,0.08,0.07,0.07]
B4_OUT_S = 0.04
B4_BASE_M = [1.20,0.50,0.30,0.22,0.17, 0.15,0.13,0.12,0.11,0.11, 0.10,0.11,0.10,0.10,0.09, 0.10,0.09,0.10,0.09,0.09,
             0.10,0.09,0.09,0.08,0.09, 0.09,0.08,0.09,0.08,0.09, 0.08,0.08,0.09,0.08,0.08, 0.09,0.08,0.08,0.09,0.08,
             0.08,0.08,0.09,0.08,0.08]
B4_BASE_S = 0.04

B5_GP_M = [1.95,1.84,1.83,1.83,1.83, 1.83,1.82,1.83,1.84,1.83, 1.83,1.82,1.83,1.83,1.84, 1.83,1.83,1.82,1.83,1.83,
           1.84,1.83,1.83,1.82,1.83, 1.83,1.84,1.83,1.83,1.82, 1.83,1.83,1.84,1.83,1.83, 1.82,1.83,1.83,1.84,1.83,
           1.83,1.82,1.83,1.83,1.83]
B5_GP_S = 0.02
B5_MC_M = [2.00,1.90,1.92,1.93,1.94, 1.94,1.95,1.94,1.95,1.96, 1.95,1.96,1.95,1.96,1.95, 1.96,1.97,1.96,1.95,1.96,
           1.97,1.96,1.97,1.96,1.97, 1.96,1.97,1.98,1.97,1.96, 1.97,1.98,1.97,1.98,1.97, 1.98,1.97,1.98,1.99,1.98,
           1.99,1.98,1.99,2.00,1.99]
B5_MC_S = 0.05
B5_PNE_M = [4.70,1.86,1.84,1.83,1.83, 1.83,1.82,1.83,1.82,1.83, 1.82,1.83,1.82,1.82,1.83, 1.82,1.82,1.83,1.82,1.82,
            1.83,1.82,1.82,1.82,1.83, 1.82,1.82,1.82,1.83,1.82, 1.82,1.82,1.83,1.82,1.82, 1.82,1.82,1.83,1.82,1.82,
            1.82,1.82,1.82,1.82,1.82]
B5_PNE_S = 0.02
B5_NF_M = [4.10,1.50,1.35,1.40,1.25, 1.30,1.15,1.20,1.10,1.25, 1.05,1.15,1.00,1.20,1.05, 1.10,0.95,1.15,1.00,1.05,
           1.20,0.95,1.10,1.00,1.15, 0.95,1.05,1.10,0.95,1.20, 1.00,1.05,0.95,1.10,0.92, 1.00,1.05,0.95,1.10,1.50,
           1.00,1.05,1.10,0.95,1.00]
B5_NF_S = [0.30,0.40,0.30,0.50,0.30, 0.35,0.30,0.45,0.30,0.60, 0.30,0.45,0.30,0.35,0.30, 0.30,0.30,0.35,0.30,0.30,
           0.45,0.30,0.35,0.30,0.45, 0.30,0.35,0.50,0.30,0.40, 0.30,0.35,0.30,0.50,0.30, 0.30,0.35,0.30,0.35,0.80,
           0.30,0.40,0.45,0.30,0.25]
B5_OUT_M = [4.00,0.75,0.62,0.55,0.48, 0.45,0.42,0.40,0.39,0.38, 0.37,0.37,0.36,0.36,0.35, 0.35,0.35,0.34,0.34,0.34,
            0.34,0.33,0.34,0.33,0.33, 0.33,0.33,0.32,0.33,0.32, 0.33,0.32,0.32,0.33,0.32, 0.32,0.32,0.31,0.32,0.32,
            0.31,0.32,0.31,0.32,0.31]
B5_OUT_S = 0.05
B5_BASE_M = [4.00,0.95,0.82,0.70,0.60, 0.55,0.50,0.46,0.43,0.41, 0.40,0.39,0.38,0.38,0.37, 0.37,0.36,0.36,0.36,0.35,
             0.36,0.35,0.35,0.34,0.35, 0.34,0.35,0.34,0.34,0.35, 0.34,0.34,0.33,0.34,0.34, 0.33,0.34,0.33,0.34,0.33,
             0.34,0.33,0.33,0.34,0.33]
B5_BASE_S = 0.04

TOP_DATA = [
    [(T1_GP_M, T1_GP_S), (T1_MC_M, T1_MC_S), (T1_PNE_M, T1_PNE_S), (T1_NF_M, T1_NF_S), (T1_OUT_M, T1_OUT_S), (T1_BASE_M, T1_BASE_S)],
    [(T2_GP_M, T2_GP_S), (T2_MC_M, T2_MC_S), (T2_PNE_M, T2_PNE_S), (T2_NF_M, T2_NF_S), (T2_OUT_M, T2_OUT_S), (T2_BASE_M, T2_BASE_S)],
    [(T3_GP_M, T3_GP_S), (T3_MC_M, T3_MC_S), (T3_PNE_M, T3_PNE_S), (T3_NF_M, T3_NF_S), (T3_OUT_M, T3_OUT_S), (T3_BASE_M, T3_BASE_S)],
    [(T4_GP_M, T4_GP_S), (T4_MC_M, T4_MC_S), (T4_PNE_M, T4_PNE_S), (T4_NF_M, T4_NF_S), (T4_OUT_M, T4_OUT_S), (T4_BASE_M, T4_BASE_S)],
    [(T5_GP_M, T5_GP_S), (T5_MC_M, T5_MC_S), (T5_PNE_M, T5_PNE_S), (T5_NF_M, T5_NF_S), (T5_OUT_M, T5_OUT_S), (T5_BASE_M, T5_BASE_S)],
]
BOT_DATA = [
    [(B1_GP_M, B1_GP_S), (B1_MC_M, B1_MC_S), (B1_PNE_M, B1_PNE_S), (B1_NF_M, B1_NF_S), (B1_OUT_M, B1_OUT_S), (B1_BASE_M, B1_BASE_S)],
    [(B2_GP_M, B2_GP_S), (B2_MC_M, B2_MC_S), (B2_PNE_M, B2_PNE_S), (B2_NF_M, B2_NF_S), (B2_OUT_M, B2_OUT_S), (B2_BASE_M, B2_BASE_S)],
    [(B3_GP_M, B3_GP_S), (B3_MC_M, B3_MC_S), (B3_PNE_M, B3_PNE_S), (B3_NF_M, B3_NF_S), (B3_OUT_M, B3_OUT_S), (B3_BASE_M, B3_BASE_S)],
    [(B4_GP_M, B4_GP_S), (B4_MC_M, B4_MC_S), (B4_PNE_M, B4_PNE_S), (B4_NF_M, B4_NF_S), (B4_OUT_M, B4_OUT_S), (B4_BASE_M, B4_BASE_S)],
    [(B5_GP_M, B5_GP_S), (B5_MC_M, B5_MC_S), (B5_PNE_M, B5_PNE_S), (B5_NF_M, B5_NF_S), (B5_OUT_M, B5_OUT_S), (B5_BASE_M, B5_BASE_S)],
]

TOP_YTICKS = [[0.0, 0.5, 1.0, 1.5, 2.0], [0, 1, 2, 3, 4, 5], [4, 6, 8, 10, 12], [20, 25, 30, 35, 40], [110, 120, 130, 140, 150]]
BOT_YTICKS = [[2, 3, 4, 5, 6], [5, 10, 15, 20, 25], [0.50, 0.75, 1.00, 1.25, 1.50, 1.75, 2.00], [0, 1, 2, 3, 4], [0, 1, 2, 3, 4, 5, 6]]
X_TICKS = [500, 1000]

# ---------------- layout (pixel boxes, ranges, styles) ----------------
TOP_BOX = [(184, 492), (559, 867), (933, 1242), (1310, 1618), (1685, 1992)]
TOP_Y = (44, 369)
BOT_BOX = [(142, 460), (537, 852), (930, 1248), (1326, 1642), (1720, 2026)]
BOT_Y = [(505, 841), (506, 850), (505, 842), (505, 842), (505, 841)]
TOP_XR = [(50.5, 1139.5), (50.5, 1139.5), (147, 1236), (147, 1236), (150, 1238)]
TOP_YR = [(-0.01, 2.25), (-0.48, 5.98), (3.81, 12.29), (17.58, 44.67), (103.3, 158.15)]
BOT_XR = [(48, 1144), (55, 1135), (147, 1243), (153, 1240), (157, 1196)]
BOT_YR = [(1.55, 6.78), (0.35, 25.24), (0.37, 2.011), (-0.88, 4.41), (-0.02, 6.2)]
TOP_FMT = [".1f", "d", "d", "d", "d"]
BOT_FMT = ["d", "d", ".2f", "d", "d"]


def rgba(hx, a):
    hx = hx.lstrip("#")
    return "rgba(%d,%d,%d,%.2f)" % (int(hx[0:2], 16), int(hx[2:4], 16), int(hx[4:6], 16), a)


fig = go.Figure()
layout = dict(width=W, height=H, margin=dict(l=0, r=0, t=0, b=0), paper_bgcolor="white",
              plot_bgcolor="white", showlegend=False)
annotations = []
shapes = []
TICKFONT = dict(family="DejaVu Sans", size=20, color="#262626")


def add_panel(k, data, x0, x1, box, ybox, xr, yr, yticks, fmt, title, right_line=True):
    xa = "x" if k == 1 else "x%d" % k
    ya = "y" if k == 1 else "y%d" % k
    for (m, s), col in zip(data, COLORS):
        m = np.asarray(m, dtype=float)
        s = np.broadcast_to(np.asarray(s, dtype=float), m.shape)
        xs = np.linspace(x0, x1, len(m))
        hi = m + s
        lo = m - s
        fig.add_trace(go.Scatter(x=np.concatenate([xs, xs[::-1]]), y=np.concatenate([hi, lo[::-1]]),
                                 fill="toself", fillcolor=rgba(col, 0.45), line=dict(width=0),
                                 mode="lines", hoverinfo="skip", xaxis=xa, yaxis=ya))
        fig.add_trace(go.Scatter(x=xs, y=m, mode="lines", line=dict(color=col, width=1.8),
                                 xaxis=xa, yaxis=ya, hoverinfo="skip"))
    axcommon = dict(showline=True, linecolor="#3a3a3a", linewidth=1, ticks="outside", ticklen=5,
                    tickwidth=1, tickcolor="#3a3a3a", showgrid=False, zeroline=False, tickfont=TICKFONT)
    layout["xaxis" if k == 1 else "xaxis%d" % k] = dict(
        axcommon, domain=[box[0] / W, box[1] / W], range=list(xr), anchor=ya,
        tickvals=X_TICKS, mirror=True)
    layout["yaxis" if k == 1 else "yaxis%d" % k] = dict(
        axcommon, domain=[1 - ybox[1] / H, 1 - ybox[0] / H], range=list(yr), anchor=xa,
        tickvals=yticks, tickformat=fmt, mirror=right_line)
    annotations.append(dict(text=title, x=(box[0] + min(box[1], 2026)) / 2 / W, y=1 - (ybox[0] - 19) / H,
                            xref="paper", yref="paper", xanchor="center", yanchor="middle", showarrow=False,
                            font=dict(family="DejaVu Sans", size=28, color="#111111", style="italic")))


for i in range(5):
    add_panel(i + 1, TOP_DATA[i], X_START[i], X_END[i], TOP_BOX[i], TOP_Y, TOP_XR[i], TOP_YR[i],
              TOP_YTICKS[i], TOP_FMT[i], TITLES[i])
for i in range(5):
    add_panel(i + 6, BOT_DATA[i], X_START[i], X_END[i], BOT_BOX[i], BOT_Y[i], BOT_XR[i], BOT_YR[i],
              BOT_YTICKS[i], BOT_FMT[i], TITLES[i], right_line=(i != 4))


# ---------------- legends (drawn as rectangles + text) ----------------
def legend(xs, y0, y1, w, fsize, gap):
    for lbl, col, x in zip(SERIES, COLORS, xs):
        shapes.append(dict(type="rect", xref="paper", yref="paper", x0=x / W, x1=(x + w) / W,
                           y0=1 - y1 / H, y1=1 - y0 / H, fillcolor=col, line=dict(width=0)))
        annotations.append(dict(text=lbl, x=(x + w + gap) / W, y=1 - (y0 + y1) / 2 / H, xref="paper", yref="paper",
                                xanchor="left", yanchor="middle", showarrow=False,
                                font=dict(family="Liberation Serif", size=fsize, color="#000000")))


legend([399, 548, 803, 977, 1191, 1477], 435, 461, 34, 40, 6)
legend([387, 540, 805, 983, 1205, 1502], 914, 940, 36, 42, 6)

# ---------------- row labels (one text per glyph, spaced so they do not collide) ----------------
annotations.append(dict(text="<b>KL</b>", x=40 / W, y=1 - 177 / H, xref="paper", yref="paper", showarrow=False,
                        xanchor="center", yanchor="middle", font=dict(family="Liberation Serif", size=30, color="#000")))
for ch, py in zip(["散", "度"], [218, 257]):
    annotations.append(dict(text="<b>%s</b>" % ch, x=34 / W, y=1 - py / H, xref="paper", yref="paper",
                            showarrow=False, xanchor="center", yanchor="middle",
                            font=dict(family="Noto Sans CJK SC", size=26, color="#000")))
for ch, py in zip(["均", "方", "误", "差"], [642, 681, 720, 759]):
    annotations.append(dict(text="<b>%s</b>" % ch, x=34 / W, y=1 - py / H, xref="paper", yref="paper",
                            showarrow=False, xanchor="center", yanchor="middle",
                            font=dict(family="Noto Sans CJK SC", size=26, color="#000")))

layout["annotations"] = annotations
layout["shapes"] = shapes
fig.update_layout(**layout)
fig.write_html("out.html")
